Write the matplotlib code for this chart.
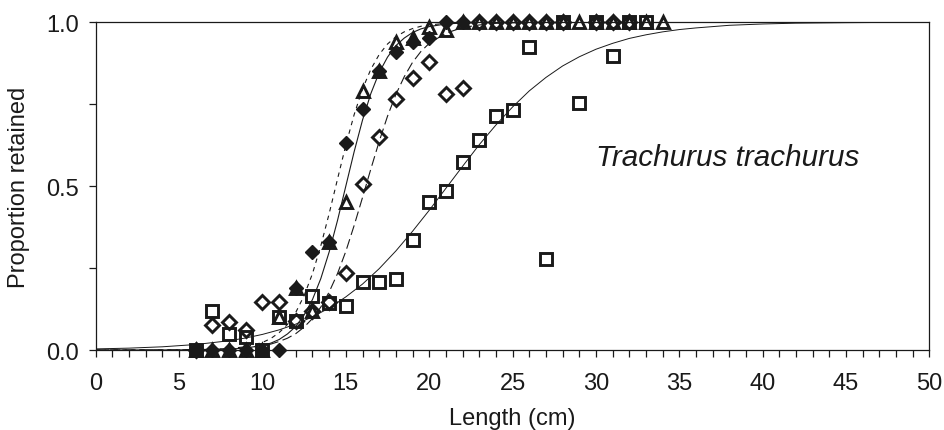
import numpy as np
import matplotlib.pyplot as plt

plt.rcParams['font.family'] = ['Liberation Sans', 'DejaVu Sans']

# observed proportions retained, by length class (cm)
len_fd = [6, 7, 8, 9, 10, 11, 12, 13, 14, 15, 16, 17, 18, 19, 20, 21, 22]
prop_fd = [0, 0, 0, 0, 0, 0, 0.19, 0.30, 0.33, 0.63, 0.735, 0.85, 0.91, 0.94, 0.95, 1.0, 1.0]

len_tri = [6, 7, 8, 9, 10, 11, 12, 13, 14, 15, 16, 17, 18, 19, 20, 21, 22, 23, 24, 25,
           26, 27, 28, 29, 30, 31, 32, 33, 34]
prop_tri = [0, 0, 0, 0, 0, 0.10, 0.19, 0.12, 0.33, 0.45, 0.79, 0.85, 0.94, 0.95, 0.985,
            0.975, 1.0, 1.0, 1.0, 1.0, 1.0, 1.0, 1.0, 1.0, 1.0, 1.0, 1.0, 1.0, 1.0]

len_od = [6, 7, 8, 9, 10, 11, 12, 13, 14, 15, 16, 17, 18, 19, 20, 21, 22, 23, 24, 25,
          26, 27, 28, 30, 31, 32]
prop_od = [0, 0.075, 0.085, 0.06, 0.145, 0.145, 0.087, 0.12, 0.145, 0.234, 0.505, 0.648,
           0.765, 0.828, 0.877, 0.78, 0.80, 1.0, 1.0, 1.0, 1.0, 1.0, 1.0, 1.0, 1.0, 1.0]

len_sq = [6, 7, 8, 9, 10, 11, 12, 13, 14, 15, 16, 17, 18, 19, 20, 21, 22, 23, 24, 25,
          26, 27, 28, 29, 30, 31, 32, 33]
prop_sq = [0, 0.118, 0.049, 0.04, 0, 0.10, 0.087, 0.165, 0.143, 0.135, 0.208, 0.208,
           0.216, 0.336, 0.452, 0.485, 0.573, 0.64, 0.714, 0.732, 0.924, 0.277, 1.0,
           0.753, 1.0, 0.895, 1.0, 1.0]

# fitted selection curves
fit_x = [0, 4, 6, 8, 9, 10, 10.5, 11, 11.5, 12, 12.5, 13, 13.5, 14, 14.5, 15, 15.5, 16,
         16.5, 17, 17.5, 18, 18.5, 19, 19.5, 20, 21, 22, 23, 24, 26, 28, 30, 35, 40, 50]
fit_fd = [0, 0.0001, 0.0008, 0.0043, 0.010, 0.023, 0.035, 0.053, 0.078, 0.115, 0.166,
          0.233, 0.318, 0.416, 0.521, 0.625, 0.718, 0.796, 0.856, 0.901, 0.933, 0.955,
          0.970, 0.980, 0.987, 0.991, 0.996, 0.998, 0.999, 1.0, 1.0, 1.0, 1.0, 1.0, 1.0, 1.0]
fit_tri = [0, 0.0001, 0.0005, 0.0026, 0.006, 0.014, 0.021, 0.032, 0.049, 0.072, 0.107,
           0.154, 0.218, 0.299, 0.395, 0.5, 0.605, 0.701, 0.782, 0.846, 0.893, 0.928,
           0.951, 0.968, 0.979, 0.986, 0.994, 0.997, 0.999, 0.9995, 1.0, 1.0, 1.0, 1.0, 1.0, 1.0]
fit_od = [0, 0.0002, 0.0008, 0.0032, 0.0064, 0.013, 0.018, 0.026, 0.036, 0.050, 0.070,
          0.096, 0.131, 0.177, 0.233, 0.301, 0.380, 0.465, 0.552, 0.636, 0.713, 0.779,
          0.833, 0.877, 0.910, 0.935, 0.966, 0.983, 0.991, 0.996, 0.999, 1.0, 1.0, 1.0, 1.0, 1.0]

fit_sq_x = [0, 2, 4, 6, 8, 9, 10, 11, 12, 13, 14, 15, 16, 17, 18, 19, 20, 21, 22, 23, 24,
            25, 26, 27, 28, 29, 30, 31, 32, 33, 34, 35, 36, 38, 40, 42, 45, 50]
fit_sq = [0.0034, 0.0057, 0.0098, 0.0167, 0.0283, 0.0367, 0.0476, 0.0614, 0.079, 0.101,
          0.128, 0.162, 0.201, 0.248, 0.302, 0.362, 0.426, 0.493, 0.560, 0.626, 0.686,
          0.741, 0.790, 0.831, 0.866, 0.894, 0.917, 0.935, 0.950, 0.961, 0.970, 0.977,
          0.982, 0.990, 0.994, 0.9965, 0.998, 0.9996]

ink = '#1a1a1a'

fig = plt.figure(figsize=(9.44, 4.31), dpi=100)
ax = fig.add_axes([0.1014, 0.1856, 0.8832, 0.761])

ax.plot(fit_sq_x, fit_sq, '-', color=ink, lw=0.7)
ax.plot(fit_x, fit_od, color=ink, lw=0.8, dashes=(9, 4))
ax.plot(fit_x, fit_tri, '-', color=ink, lw=0.8)
ax.plot(fit_x, fit_fd, color=ink, lw=0.8, dashes=(4, 4))

mk = dict(ls='none', color=ink, mfc='none', mew=2.1, clip_on=False)
ax.plot(len_sq, prop_sq, marker='s', ms=8, **mk)
ax.plot(len_od, prop_od, marker='D', ms=7, **mk)
ax.plot(len_tri, prop_tri, marker='^', ms=9, **mk)
ax.plot(len_fd, prop_fd, marker='D', ms=7.5, ls='none', color=ink, mec=ink, mfc=ink,
        clip_on=False)

ax.text(30, 0.565, 'Trachurus trachurus', fontsize=21.3, style='italic', color=ink)

ax.set_xlim(0, 50)
ax.set_ylim(0, 1)
ax.set_xticks(np.arange(0, 51, 5))
ax.set_xticks(np.arange(0, 51, 1), minor=True)
ax.set_yticks([0, 0.5, 1.0])
ax.set_yticks([0.25, 0.75], minor=True)
ax.set_yticklabels(['0.0', '0.5', '1.0'])
ax.tick_params(which='both', direction='out', color=ink, width=0.9, labelsize=17,
               labelcolor=ink)
ax.tick_params(axis='x', which='major', length=5, pad=11)
ax.tick_params(axis='y', which='major', length=5, pad=7)
ax.tick_params(which='minor', length=5)
for s in ax.spines.values():
    s.set_color(ink)
    s.set_linewidth(0.9)

ax.set_xlabel('Length (cm)', fontsize=17, color=ink, labelpad=9)
ax.set_ylabel('Proportion retained', fontsize=17, color=ink, labelpad=12)

fig.savefig('out.png', dpi=100)
